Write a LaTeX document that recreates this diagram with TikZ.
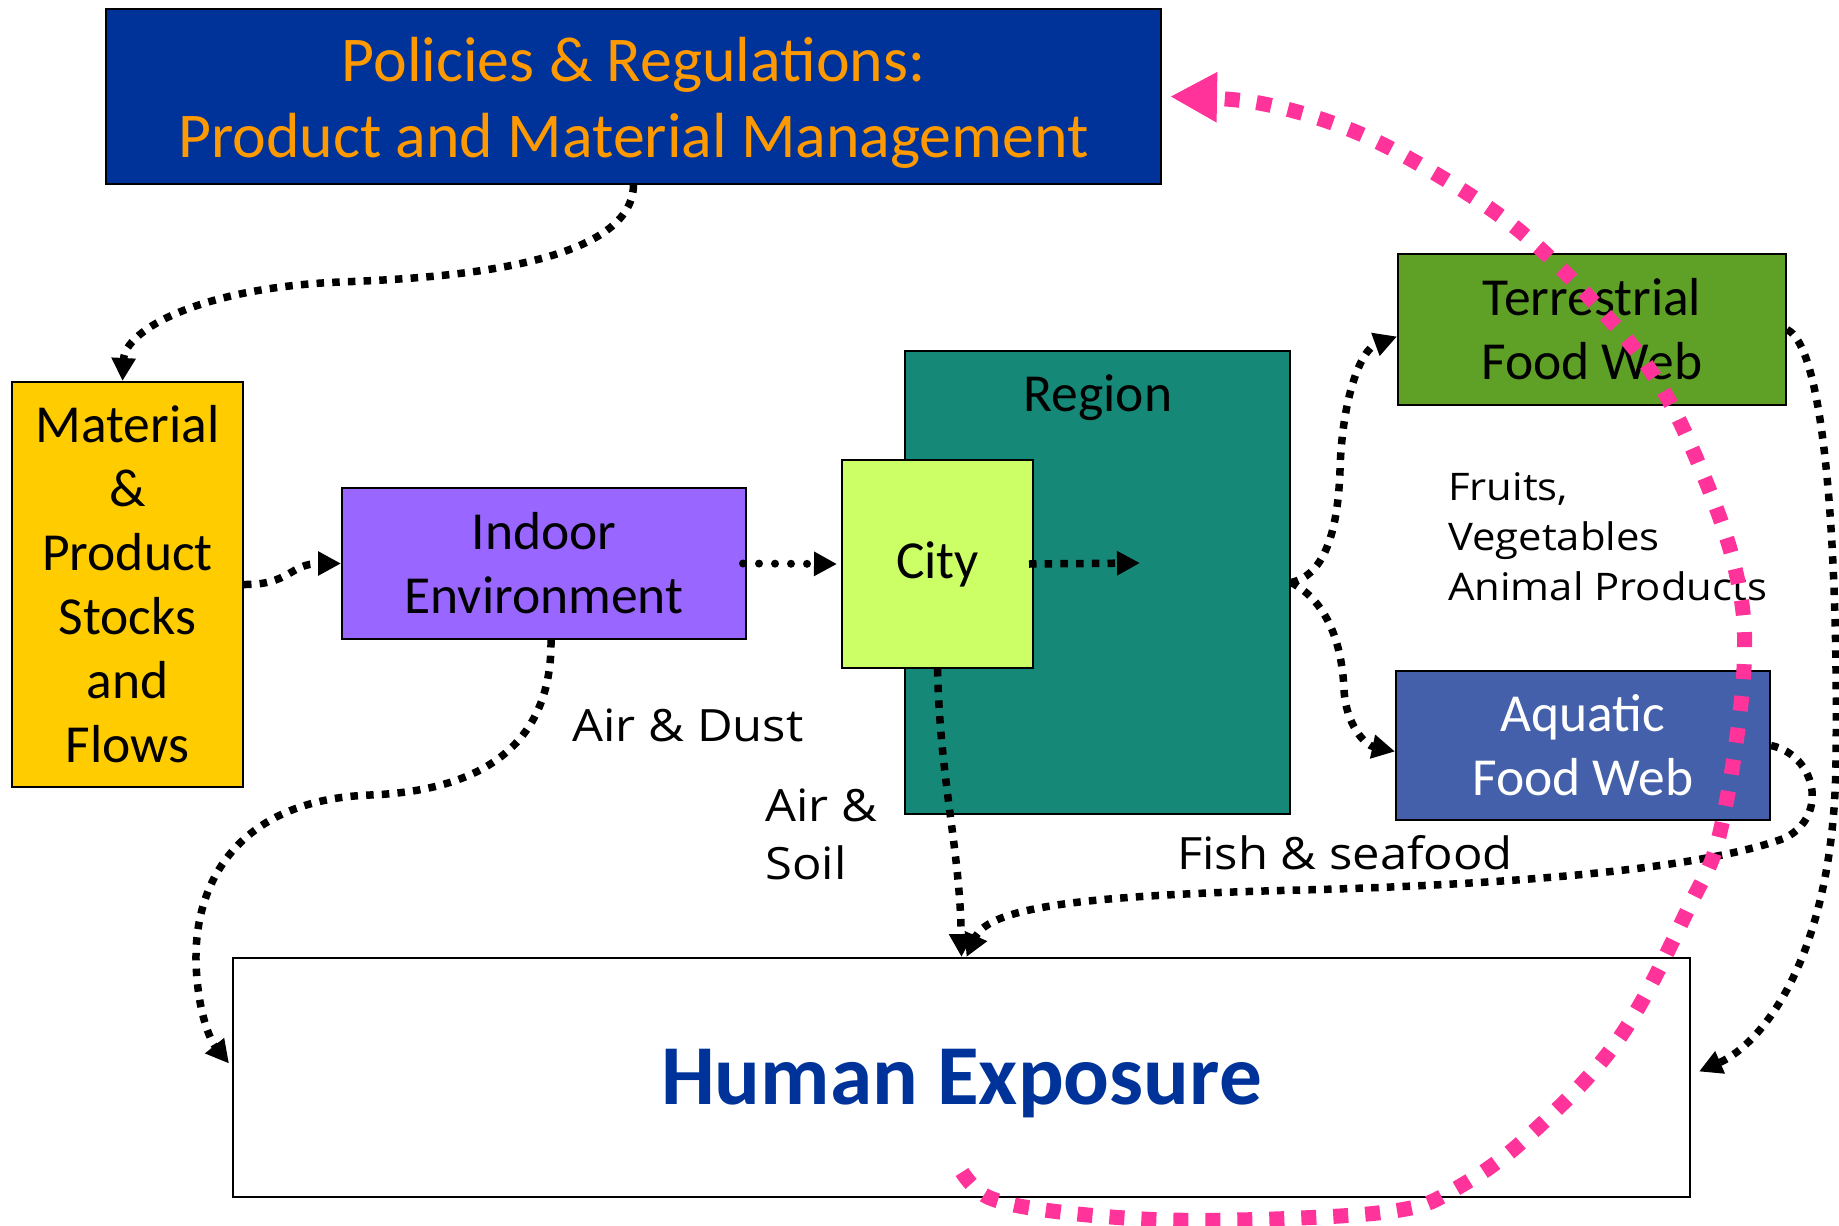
\documentclass[tikz,border=0pt]{standalone}
\usepackage{fontspec}
\setmainfont{Carlito}
\newfontfamily\comic[FakeStretch=1.1]{Open Sans}
\usetikzlibrary{arrows.meta}
\definecolor{polblue}{RGB}{0,51,153}
\definecolor{polorange}{RGB}{255,153,0}
\definecolor{matyellow}{RGB}{255,204,0}
\definecolor{indpurple}{RGB}{153,102,255}
\definecolor{regteal}{RGB}{22,136,120}
\definecolor{citygreen}{RGB}{204,255,102}
\definecolor{tergreen}{RGB}{95,160,39}
\definecolor{aqublue}{RGB}{68,96,170}
\definecolor{pinkline}{RGB}{255,51,153}
\tikzset{
  box/.style={draw=black, line width=2pt, inner sep=0pt, align=center, font=\fontsize{53.5}{64}\selectfont},
  flow/.style={draw=black, line width=7.5pt, dash pattern=on 7.5pt off 8.2pt, -{Triangle[length=23pt,width=23pt]}},
  roundflow/.style={draw=black, line width=8pt, line cap=round, dash pattern=on 0pt off 16pt, -{Triangle[length=23pt,width=23pt]}},
  pinkflow/.style={draw=pinkline, line width=15pt, dash pattern=on 15pt off 17pt, -{Triangle[length=47pt,width=47pt]}},
  lbl/.style={font=\comic\fontsize{44.5}{58}\selectfont, inner sep=0pt, align=left}
}
\begin{document}
\begin{tikzpicture}[x=1pt,y=-1pt]
\useasboundingbox (0,0) rectangle (1839,1226);
% boxes
\node[box, fill=polblue, minimum width=1055pt, minimum height=175pt] (pol) at (633.5,96.5) {};
\node[text=polorange, align=center, inner sep=0pt, font=\fontsize{63.8}{76}\selectfont] (poltxt) at (633.5,102.5) {Policies \& Regulations:\\Product and Material Management};
\node[box, fill=matyellow, minimum width=231pt, minimum height=405pt] (mat) at (127.5,584.5) {Material\\\&\\Product\\Stocks\\and\\Flows};
\node[box, fill=indpurple, minimum width=404pt, minimum height=151pt] (ind) at (544,563.5) {Indoor\\Environment};
\node[box, fill=regteal, minimum width=385pt, minimum height=463pt] (reg) at (1097.5,582.5) {};
\node[font=\fontsize{53.5}{64}\selectfont, inner sep=0pt] (reglbl) at (1098,398) {Region};
\node[box, fill=citygreen, minimum width=191pt, minimum height=208pt] (city) at (937.5,564) {City};
\node[box, fill=tergreen, minimum width=388pt, minimum height=151pt] (ter) at (1592,329.5) {Terrestrial\\Food Web};
\node[box, fill=aqublue, text=white, minimum width=374pt, minimum height=149pt] (aqu) at (1583,745.5) {Aquatic\\Food Web};
\node[box, fill=white, minimum width=1457pt, minimum height=239pt] (hum) at (961.5,1077.5) {};
\node[text=polblue, inner sep=0pt, font=\bfseries\fontsize{85.3}{100}\selectfont] (humtxt) at (961.5,1083.5) {Human Exposure};
% labels
\node[lbl] (airdust) at (688,725) {Air \& Dust};
\node[lbl, anchor=west] (airsoil) at (765,834) {Air \&\\Soil};
\node[lbl] (fish) at (1345,853) {Fish \& seafood};
\node[lbl, anchor=west, font=\comic\fontsize{38}{50}\selectfont] (fruits) at (1448,537) {Fruits,\\Vegetables\\Animal Products};
% black connectors
\draw[flow] (pol.south) .. controls (632,265) and (450,278) .. (340,282) .. controls (200,288) and (125,330) .. ([xshift=-5pt]mat.north);
\draw[flow] (mat.east) .. controls (290,585) and (290,563.5) .. (ind.west);
\draw[roundflow] ([xshift=-4pt]ind.east) -- ([xshift=-4pt]city.west);
\coordinate (regmid) at (1140,563);
\draw[flow] ([xshift=-5pt]city.east) -- (regmid);
\draw[flow] (reg.east) .. controls (1325,575) and (1338,530) .. (1340,470) .. controls (1342,400) and (1360,350) .. ([yshift=-7pt]ter.west);
\draw[flow] (reg.east) .. controls (1325,600) and (1342,640) .. (1344,690) .. controls (1346,725) and (1365,745) .. ([yshift=-6pt]aqu.west);
\draw[flow] (ter.east) .. controls (1830,350) and (1838,600) .. (1836,760) .. controls (1834,960) and (1760,1045) .. ([xshift=8pt,yshift=6pt]hum.east);
\draw[flow] (aqu.east) .. controls (1815,755) and (1830,815) .. (1785,838) .. controls (1700,870) and (1500,885) .. (1300,890) .. controls (1100,895) and (990,905) .. ([xshift=5pt]hum.north);
\draw[flow] (city.south) .. controls (940,780) and (960,850) .. (hum.north);
\draw[flow] ([xshift=7pt]ind.south) .. controls (552,730) and (500,790) .. (370,795) .. controls (240,800) and (195,880) .. (196,960) .. controls (197,1010) and (210,1040) .. ([xshift=-3pt,yshift=14pt]hum.west);
% pink feedback
\coordinate (pinkstart) at (962,1172);
\draw[pinkflow] plot[smooth, tension=0.6] coordinates {(pinkstart) (990,1198) (1060,1212) (1170,1220) (1300,1218) (1400,1210) (1450,1192) (1524,1140) (1618,1040) (1690,905) (1721,828) (1744,668) (1734,564) (1691,446) (1648,367) (1585,293) (1516,228) (1436,174) (1351,130) (1259,103) ([xshift=8pt]pol.east)};
\end{tikzpicture}
\end{document}
